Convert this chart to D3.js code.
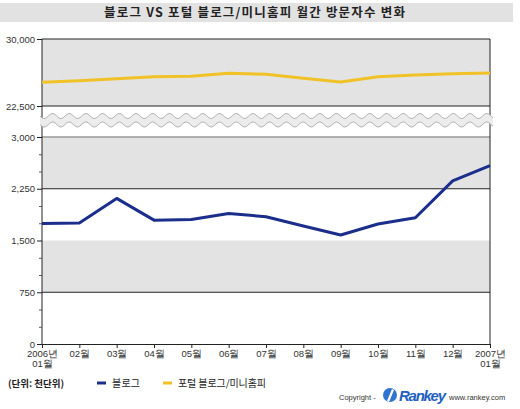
<!DOCTYPE html>
<meta charset="utf-8">
<html>
<head>
<title>블로그 VS 포털 블로그/미니홈피</title>
<script src="https://cdn.jsdelivr.net/npm/d3@7"></script>
<style>
body { margin: 0; background: #fff; }
svg { display: block; font-family: "Liberation Sans", "Noto Sans CJK KR", sans-serif; }
.tick text { fill: #333; }
</style>
</head>
<body>
<svg width="520" height="409"></svg>
<script>

// monthly visitors, thousands
var months = ["2006년|01월", "02월", "03월", "04월", "05월", "06월", "07월", "08월", "09월", "10월", "11월", "12월", "2007년|01월"];
var blog   = [1745, 1755, 2110, 1795, 1805, 1892, 1845, 1710, 1580, 1740, 1830, 2365, 2585];
var portal = [25150, 25330, 25560, 25780, 25820, 26160, 26050, 25600, 25190, 25780, 25970, 26120, 26200];
var lowTicks  = [0, 750, 1500, 2250, 3000];
var highTicks = [22500, 30000];
var seriesNames = ["블로그", "포털 블로그/미니홈피"];
var seriesColors = ["#1c2e8c", "#f0c228"];

var svg = d3.select("svg");
var left = 42, right = 490;

var x = d3.scalePoint().domain(d3.range(months.length)).range([left, right]);
var yLow = d3.scaleLinear().domain([0, 3000]).range([344, 137]);
var yHigh = d3.scaleLinear().domain([22500, 30000]).range([106, 39]);

var kfont = "'Noto Sans CJK KR', sans-serif";

// title bar
svg.append("rect").attr("x", 0).attr("y", 3).attr("width", 513).attr("height", 19).attr("fill", "#e2e2e2");
svg.append("text").attr("x", 104).attr("y", 17)
  .attr("textLength", 301).attr("lengthAdjust", "spacing")
  .style("font-family", kfont).style("font-weight", "bold").style("font-size", "12.5px")
  .attr("fill", "#222").text("블로그 VS 포털 블로그/미니홈피 월간 방문자수 변화");

// bands
svg.append("rect").attr("x", left).attr("y", yHigh(30000)).attr("width", right - left)
  .attr("height", yHigh(22500) - yHigh(30000)).attr("fill", "#e3e3e3");
[[2250, 3000], [750, 1500]].forEach(function(b) {
  svg.append("rect").attr("x", left).attr("y", yLow(b[1])).attr("width", right - left)
    .attr("height", yLow(b[0]) - yLow(b[1])).attr("fill", "#e3e3e3");
});

// grid lines
svg.append("line").attr("x1", left).attr("x2", right).attr("y1", yHigh(30000)).attr("y2", yHigh(30000)).attr("stroke", "#222");
svg.append("line").attr("x1", left).attr("x2", right).attr("y1", yHigh(22500)).attr("y2", yHigh(22500)).attr("stroke", "#222");
svg.append("line").attr("x1", left).attr("x2", right).attr("y1", yLow(3000)).attr("y2", yLow(3000)).attr("stroke", "#999").attr("stroke-width", 1.5);
[2250, 750].forEach(function(v) {
  svg.append("line").attr("x1", left).attr("x2", right).attr("y1", yLow(v)).attr("y2", yLow(v)).attr("stroke", "#222");
});

// frame
svg.append("line").attr("x1", left).attr("x2", left).attr("y1", 39).attr("y2", 344).attr("stroke", "#222");
svg.append("line").attr("x1", right).attr("x2", right).attr("y1", 39).attr("y2", 344).attr("stroke", "#222");

// axes
var fmt = d3.format(",");
var axLow = svg.append("g").attr("transform", "translate(" + left + ",0)")
  .call(d3.axisLeft(yLow).tickValues(lowTicks).tickFormat(fmt).tickSize(5).tickPadding(2));
var axHigh = svg.append("g").attr("transform", "translate(" + left + ",0)")
  .call(d3.axisLeft(yHigh).tickValues(highTicks).tickFormat(fmt).tickSize(5).tickPadding(2));
[axLow, axHigh].forEach(function(g) {
  g.select(".domain").remove();
  g.selectAll(".tick line").attr("stroke", "#222");
  g.selectAll(".tick text").style("font-size", "9.5px");
});
svg.append("g").attr("transform", "translate(" + left + ",0)")
  .call(d3.axisLeft(yLow).tickValues(d3.range(250, 3000, 250).filter(function(v) { return v % 750; })).tickSize(3).tickFormat(""))
  .call(function(g) { g.select(".domain").remove(); g.selectAll("line").attr("stroke", "#555"); });

var axX = svg.append("g").attr("transform", "translate(0,344)")
  .call(d3.axisBottom(x).tickSize(4).tickFormat(""));
axX.select(".domain").attr("stroke", "#222");
axX.selectAll(".tick line").attr("stroke", "#222");
axX.selectAll(".tick").append("text")
  .attr("fill", "#333").attr("text-anchor", "middle").style("font-size", "9.5px")
  .each(function(i) {
    var parts = months[i].split("|");
    var t = d3.select(this);
    parts.forEach(function(p, k) {
      t.append("tspan").attr("x", 0).attr("y", 13 + k * 10).text(p);
    });
  });

// break wave
var waveTop = [], waveBot = [];
for (var px = 40; px <= 493; px += 1) {
  var off = 2.5 * Math.sin((px - 40) / 16.7 * 2 * Math.PI);
  waveTop.push([px, 116 + off]);
  waveBot.push([px, 124.5 + off]);
}
var wavePts = waveTop.concat(waveBot.slice().reverse());
svg.append("path").attr("d", d3.line()(wavePts) + "Z").attr("fill", "#ececec").attr("stroke", "none");
svg.append("path").attr("d", d3.line()(waveTop)).attr("fill", "none").attr("stroke", "#b5b5b5");
svg.append("path").attr("d", d3.line()(waveBot)).attr("fill", "none").attr("stroke", "#b5b5b5");

// series
svg.append("path").datum(blog)
  .attr("d", d3.line().x(function(d, i) { return x(i); }).y(function(d) { return yLow(d); }))
  .attr("fill", "none").attr("stroke", seriesColors[0]).attr("stroke-width", 3).attr("stroke-linejoin", "round");
svg.append("path").datum(portal)
  .attr("d", d3.line().x(function(d, i) { return x(i); }).y(function(d) { return yHigh(d); }))
  .attr("fill", "none").attr("stroke", seriesColors[1]).attr("stroke-width", 3).attr("stroke-linejoin", "round");

// legend
svg.append("text").attr("x", 8).attr("y", 387).style("font-family", kfont).style("font-size", "9.5px")
  .style("font-weight", "bold").attr("fill", "#222").text("(단위: 천단위)");
[[97, 112, 28], [163, 178, 88]].forEach(function(p, i) {
  svg.append("line").attr("x1", p[0]).attr("x2", p[0] + 9).attr("y1", 383).attr("y2", 383)
    .attr("stroke", seriesColors[i]).attr("stroke-width", 3);
  svg.append("text").attr("x", p[1]).attr("y", 387).style("font-family", kfont).style("font-size", "10px")
    .attr("textLength", p[2]).attr("lengthAdjust", "spacing")
    .attr("fill", "#222").text(seriesNames[i]);
});

// copyright / logo
svg.append("text").attr("x", 339).attr("y", 400).style("font-size", "7.5px").attr("fill", "#333").text("Copyright  -");
svg.append("circle").attr("cx", 390).attr("cy", 395).attr("r", 7).attr("fill", "#2f74d0");
svg.append("path").attr("d", "M387,401 L392,389 L394,390 L389,402 Z").attr("fill", "#fff");
svg.append("text").attr("x", 399).attr("y", 401).attr("textLength", 47).style("font-size", "15px").style("font-weight", "bold")
  .style("font-style", "italic").attr("fill", "#1f5fc0").text("Rankey");
svg.append("text").attr("x", 449).attr("y", 400).style("font-size", "7.5px").attr("fill", "#333").text("www.rankey.com");

</script>
</body>
</html>
